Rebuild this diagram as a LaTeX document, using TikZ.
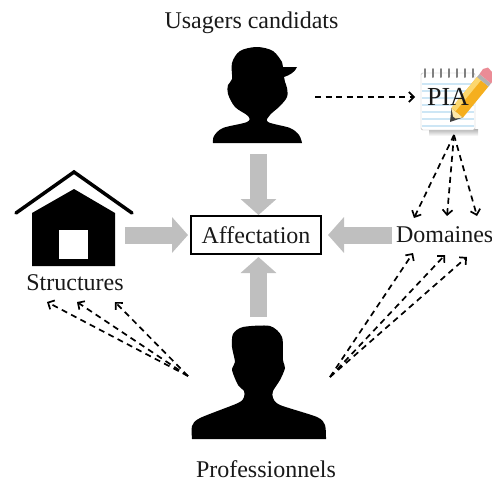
\documentclass[tikz,border=0pt]{standalone}
\usepackage{fontspec}
\setmainfont{Liberation Serif}
\usetikzlibrary{arrows.meta}
\definecolor{lignebleue}{RGB}{205,230,245}
\definecolor{crayon}{RGB}{245,175,30}
\definecolor{crayonclair}{RGB}{252,215,110}
\definecolor{gomme}{RGB}{235,140,150}
\tikzset{
  etiquette/.style={font=\fontsize{24}{26}\selectfont, text=black!90, inner sep=4pt, outer sep=0pt},
  icone/.style={inner sep=0pt, outer sep=0pt},
  grosse/.style={line width=17pt, draw=black!25, -{Triangle[length=16pt,width=35pt]}},
  pointille/.style={line width=1.7pt, dash pattern=on 6pt off 4.5pt, -{Straight Barb[length=5pt,width=10pt,line width=1.7pt]}}
}

\begin{document}
\begin{tikzpicture}[x=1pt,y=-1pt]
        \useasboundingbox (0,0) rectangle (492,480);
        %%%SILHOUETTES%%%
        %usager with cap
        \fill plot[smooth, tension=.55] coordinates {(213,143) (214,136) (223,128) (247,122) (248,116) (235,107) (228,94)
          (228,85) (232,79) (232,63) (240,51) (257,47) (273,51) (282,62)}
          -- (283,67) -- (297,67) .. controls (295,72) and (290,75) .. (284,77)
          -- plot[smooth, tension=.55] coordinates {(285,82) (287,88) (287,97) (280,106) (270,115) (268,122) (290,128) (299,135) (302,143)} -- cycle;
        %professionnel
        \fill plot[smooth, tension=.45] coordinates {(192,439) (192,426) (200,418) (238,403) (244,397) (244,391) (238,385)
          (232,370) (235,362) (232,347) (233,334) (243,327) (270,326) (282,337) (283,360) (285,368) (280,380) (273,391)
          (273,398) (280,405) (317,417) (325,425) (326,439)} -- cycle;
        %maison
        \fill (32,266) -- (32,213) -- (74,189) -- (115,213) -- (115,266) -- cycle;
        \fill[white] (59,230) rectangle (88,259);
        \draw[line width=3.5pt, line cap=round] (16,213) -- (74,172) -- (132,213);
        %%%PIA NOTEPAD%%%
        \shade[top color=black!30, bottom color=white] (429,129) rectangle (478,136);
        \draw[black!30, fill=white, rounded corners=1.5pt] (421,73) rectangle (475,130);
        \foreach \y in {84,91,...,126}
          \draw[lignebleue, line width=1.3pt] (422,\y) -- (474,\y);
        \foreach \x in {425,433,...,473}
          \draw[black!50, line width=2pt, line cap=round] (\x,69) -- (\x,77);
        %pencil
        \fill[black!75] (450,122) -- (451.5,108) -- (463,117.5) -- cycle;
        \fill[crayonclair!60!white] (453,116.5) -- (451.5,108) -- (463,117.5) -- (455.5,118.5) -- cycle;
        \fill[crayon] (451.5,108) -- (477,77) -- (488.5,86.5) -- (463,117.5) -- cycle;
        \fill[crayonclair] (451.5,108) -- (477,77) -- (481,80.3) -- (455.5,111.3) -- cycle;
        \fill[black!30] (477,77) -- (479.5,74) -- (491,83.5) -- (488.5,86.5) -- cycle;
        \fill[gomme] (479.5,74) -- (483,69) -- (488,67.5) -- (492,72) -- (492,82) -- (491,83.5) -- cycle;
        %%%NODES%%%
        \node[etiquette] (usagerstxt) at (251.5,23) {Usagers candidats};
        \node[icone, minimum width=90pt, minimum height=108pt] (usager) at (258.5,100) {};
        \node[icone, minimum width=110pt, minimum height=126pt] (maison) at (70,235) {};
        \node[icone, minimum width=134pt, minimum height=124pt] (pro) at (258.5,379) {};
        \node[etiquette, draw, line width=1.5pt, minimum width=130pt, minimum height=38pt] (affect) at (256,235) {Affectation};
        \node[etiquette, font=\fontsize{26}{28}\selectfont, inner sep=0pt, minimum width=66pt] (pia) at (448,97) {PIA};
        \node[etiquette, anchor=west] (domaines) at (392,235) {Domaines};
        \node[etiquette] (structures) at (75,283) {Structures};
        \node[etiquette, inner sep=1pt] (protxt) at (266,469) {Professionnels};
        %free ends of dashed arrows
        \coordinate (usagerdroite) at (315,97);
        \coordinate (piabas) at (454,135);
        \coordinate (prodroite) at (330,377);
        \coordinate (progauche) at (188,376);
        \coordinate (d1) at (414,218);
        \coordinate (d2) at (447,216);
        \coordinate (d3) at (477,216);
        \coordinate (e1) at (413,253);
        \coordinate (e2) at (445,255);
        \coordinate (e3) at (467,257);
        \coordinate (s1) at (47,302);
        \coordinate (s2) at (77,302);
        \coordinate (s3) at (115,302);
        %%%ARROWS%%%
        %big grey arrows
        \draw[grosse, shorten >=1pt] (usager.south) -- (usager.south |- affect.north);
        \draw[grosse, shorten >=3pt] (pro.north) -- (pro.north |- affect.south);
        \draw[grosse, shorten >=3pt] (maison.east) -- (maison.east -| affect.west);
        \draw[grosse, shorten >=7pt] (domaines.west) -- (domaines.west -| affect.east);
        %dashed arrows
        \draw[pointille] (usagerdroite) -- (pia.west);
        \foreach \cible in {d1,d2,d3}
          \draw[pointille] (piabas) -- (\cible);
        \foreach \cible in {e1,e2,e3}
          \draw[pointille] (prodroite) -- (\cible);
        \foreach \cible in {s1,s2,s3}
          \draw[pointille] (progauche) -- (\cible);
    \end{tikzpicture}
\end{document}
